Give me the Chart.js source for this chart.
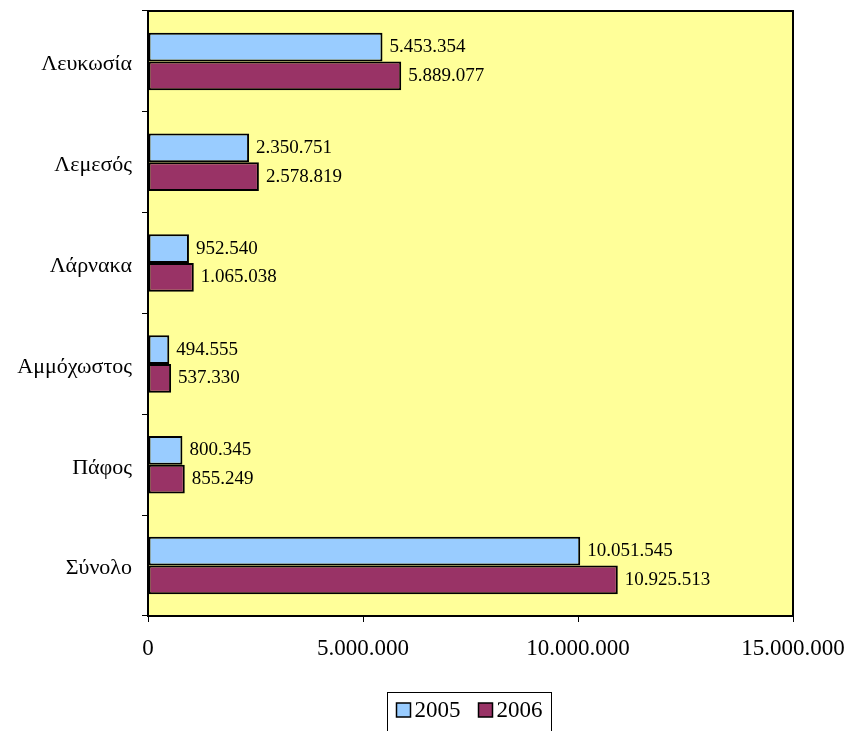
<!DOCTYPE html>
<html>
<head>
<meta charset="utf-8">
<script src="https://cdn.jsdelivr.net/npm/chart.js@4/dist/chart.umd.min.js"></script>
<style>
  html, body { margin: 0; padding: 0; background: #fff; }
  #wrap { width: 848px; height: 731px; }
</style>
</head>
<body>
<div id="wrap"><canvas id="c" width="848" height="731"></canvas></div>
<script>
const categories = ['Λευκωσία', 'Λεμεσός', 'Λάρνακα', 'Αμμόχωστος', 'Πάφος', 'Σύνολο'];
const years = ['2005', '2006'];
const values2005 = [5453354, 2350751, 952540, 494555, 800345, 10051545];
const values2006 = [5889077, 2578819, 1065038, 537330, 855249, 10925513];
const xTicks = [0, 5000000, 10000000, 15000000];

const SERIF = '"Liberation Serif", "Times New Roman", serif';

function fmt(n) {
  return String(n).replace(/\B(?=(\d{3})+(?!\d))/g, '.');
}

// yellow plot area + black frame
const plotFrame = {
  id: 'plotFrame',
  beforeDatasetsDraw(chart) {
    const a = chart.chartArea, ctx = chart.ctx;
    ctx.save();
    ctx.fillStyle = '#FFFF99';
    ctx.fillRect(a.left, a.top, a.right - a.left, a.bottom - a.top);
    ctx.restore();
  },
  afterDraw(chart) {
    const a = chart.chartArea, ctx = chart.ctx;
    ctx.save();
    ctx.strokeStyle = '#000';
    ctx.lineWidth = 2;
    ctx.strokeRect(a.left, a.top, a.right - a.left, a.bottom - a.top);
    ctx.restore();
  }
};

// value labels at bar ends
const barLabels = {
  id: 'barLabels',
  afterDatasetsDraw(chart) {
    const ctx = chart.ctx;
    ctx.save();
    ctx.font = '19px ' + SERIF;
    ctx.fillStyle = '#000';
    ctx.textAlign = 'left';
    ctx.textBaseline = 'middle';
    chart.data.datasets.forEach((ds, i) => {
      chart.getDatasetMeta(i).data.forEach((bar, j) => {
        ctx.fillText(fmt(ds.data[j]), bar.x + 7, bar.y);
      });
    });
    ctx.restore();
  }
};

// boxed legend under the axis
const boxLegend = {
  id: 'boxLegend',
  afterDraw(chart) {
    const ctx = chart.ctx;
    ctx.save();
    ctx.font = '23px ' + SERIF;
    ctx.textBaseline = 'middle';
    const sq = 14, gap = 4, itemGap = 18, padX = 9;
    const items = chart.data.datasets.map(ds => ({
      label: ds.label, color: ds.backgroundColor, w: sq + gap + ctx.measureText(ds.label).width
    }));
    const total = padX * 2 + items.reduce((s, it) => s + it.w, 0) + itemGap * (items.length - 1);
    const boxX = 387.5;
    const boxY = 692.5;
    ctx.strokeStyle = '#000';
    ctx.lineWidth = 1;
    ctx.strokeRect(boxX, boxY, total, 42);
    let x = boxX + padX;
    const cy = 710;
    items.forEach(it => {
      ctx.fillStyle = it.color;
      ctx.fillRect(x, cy - sq / 2, sq, sq);
      ctx.lineWidth = 1.5;
      ctx.strokeRect(x, cy - sq / 2, sq, sq);
      ctx.fillStyle = '#000';
      ctx.fillText(it.label, x + sq + gap, cy + 1);
      x += it.w + itemGap;
    });
    ctx.restore();
  }
};

new Chart(document.getElementById('c'), {
  type: 'bar',
  data: {
    labels: categories,
    datasets: [
      { label: years[0], data: values2005, backgroundColor: '#99CCFF' },
      { label: years[1], data: values2006, backgroundColor: '#993366' }
    ]
  },
  options: {
    indexAxis: 'y',
    responsive: false,
    animation: false,
    events: [],
    layout: { padding: { top: 11, right: 55, bottom: 0, left: 0 } },
    datasets: {
      bar: {
        categoryPercentage: 0.57,
        barPercentage: 1,
        borderColor: '#000',
        borderWidth: 2,
        borderSkipped: false
      }
    },
    plugins: {
      legend: { display: false },
      tooltip: { enabled: false }
    },
    scales: {
      x: {
        min: 0,
        max: 15000000,
        afterBuildTicks(scale) { scale.ticks = xTicks.map(v => ({ value: v })); },
        afterFit(scale) {
          scale.height = 115;
          scale.paddingLeft = 0;
          scale.paddingRight = 0;
        },
        ticks: {
          callback: v => fmt(v),
          color: '#000',
          font: { family: SERIF, size: 23 },
          padding: 13,
          maxRotation: 0
        },
        grid: { drawOnChartArea: false, drawTicks: true, tickLength: 6, color: '#000' },
        border: { display: true, color: '#000', width: 2 }
      },
      y: {
        afterFit(scale) {
          scale.width = 148;
          scale.paddingTop = 0;
          scale.paddingBottom = 0;
        },
        ticks: {
          color: '#000',
          font: { family: SERIF, size: 22 },
          padding: 10,
          labelOffset: 3
        },
        grid: { drawOnChartArea: false, drawTicks: true, tickLength: 6, color: '#000', offset: true },
        border: { display: true, color: '#000', width: 2 }
      }
    }
  },
  plugins: [plotFrame, barLabels, boxLegend]
});
</script>
</body>
</html>
